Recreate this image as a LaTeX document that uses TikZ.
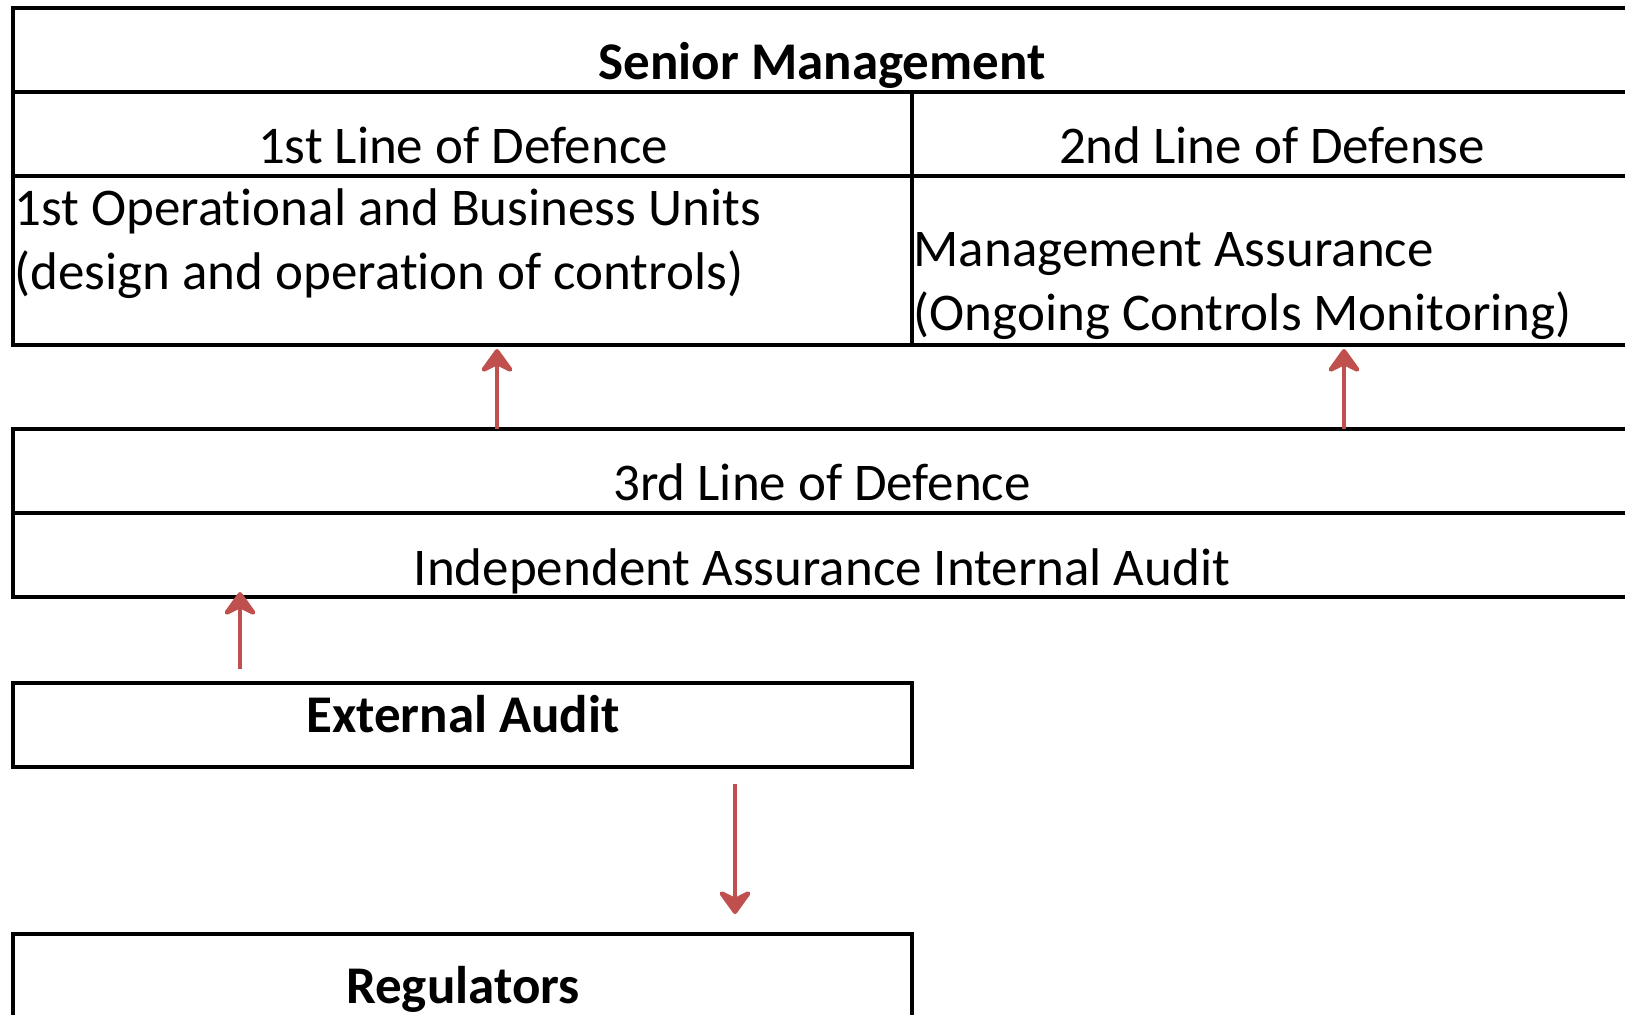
\documentclass[tikz,border=0pt]{standalone}
\usepackage{fontspec}
\setmainfont{Carlito}[Ligatures=CommonOff]
\usetikzlibrary{arrows.meta,positioning}
\definecolor{arrowred}{HTML}{C0504D}

\begin{document}
\begin{tikzpicture}[x=0.5pt,y=-0.5pt,line width=1.6pt,
  box/.style={draw,rectangle,inner sep=0pt,outer sep=0pt,minimum height=42pt},
  wide box/.style={box,minimum width=809pt},
  left box/.style={box,minimum width=449.5pt},
  right box/.style={box,minimum width=359.5pt},
  box text/.style={inner sep=0pt,font=\fontsize{26.5}{32}\selectfont},
  red arrow/.style={draw=arrowred,line width=2.4pt,
    -{Stealth[length=14pt,width=20pt,inset=5pt,round]}}]

  \clip (0,0) rectangle (1625,1014);

  % management and the first two lines
  \node[wide box,anchor=north west] (sm) at (13,8) {};
  \node[left box] (l1) [below right=0pt and 0pt of sm.south west] {};
  \node[right box] (l2) [right=0pt of l1] {};
  \node[left box,minimum height=84.5pt] (ops) [below=0pt of l1] {};
  \node[right box,minimum height=84.5pt] (mgmt) [below=0pt of l2] {};

  % third line
  \node[wide box,anchor=north west] (l3) at (13,429) {};
  \node[wide box] (ia) [below=0pt of l3] {};

  % outside parties
  \node[left box,anchor=north west] (ext) at (13,683) {};
  \node[left box,anchor=north west] (reg) at (13,934) {};

  % texts (two-line ones sit on their last baseline)
  \node[box text,anchor=base,font=\fontsize{26.5}{32}\selectfont\bfseries] (smt) at (822,79) {Senior Management};
  \node[box text,anchor=base] (l1t) at (463,163) {1st Line of Defence};
  \node[box text,anchor=base] (l2t) at (1272,163) {2nd Line of Defense};
  \node[box text,anchor=base west,align=left] (opst) at (13,289)
    {1st Operational and Business Units\\(design and operation of controls)};
  \node[box text,anchor=base west,align=left] (mgmtt) at (912,330)
    {Management Assurance\\(Ongoing Controls Monitoring)};
  \node[box text,anchor=base] (l3t) at (822,500) {3rd Line of Defence};
  \node[box text,anchor=base] (iat) at (822,585) {Independent Assurance Internal Audit};
  \node[box text,anchor=base,font=\fontsize{26.5}{32}\selectfont\bfseries] (extt) at (463,732) {External Audit};
  \node[box text,anchor=base,font=\fontsize{26.5}{32}\selectfont\bfseries] (regt) at (463,1003) {Regulators};

  % arrows
  \coordinate (c1) at (497,0);
  \coordinate (c2) at (1344,0);
  \coordinate (c3) at (240,0);
  \coordinate (c4) at (735,0);
  \draw[red arrow,shorten >=2pt] (l3.north -| c1) -- (ops.south -| c1);
  \draw[red arrow,shorten >=2pt] (l3.north -| c2) -- (mgmt.south -| c2);
  \draw[red arrow,shorten <=7pt,shorten >=-2.5pt] (ext.north -| c3) -- (ia.south -| c3);
  \draw[red arrow,shorten <=8.5pt,shorten >=10pt] (ext.south -| c4) -- (reg.north -| c4);
\end{tikzpicture}
\end{document}
